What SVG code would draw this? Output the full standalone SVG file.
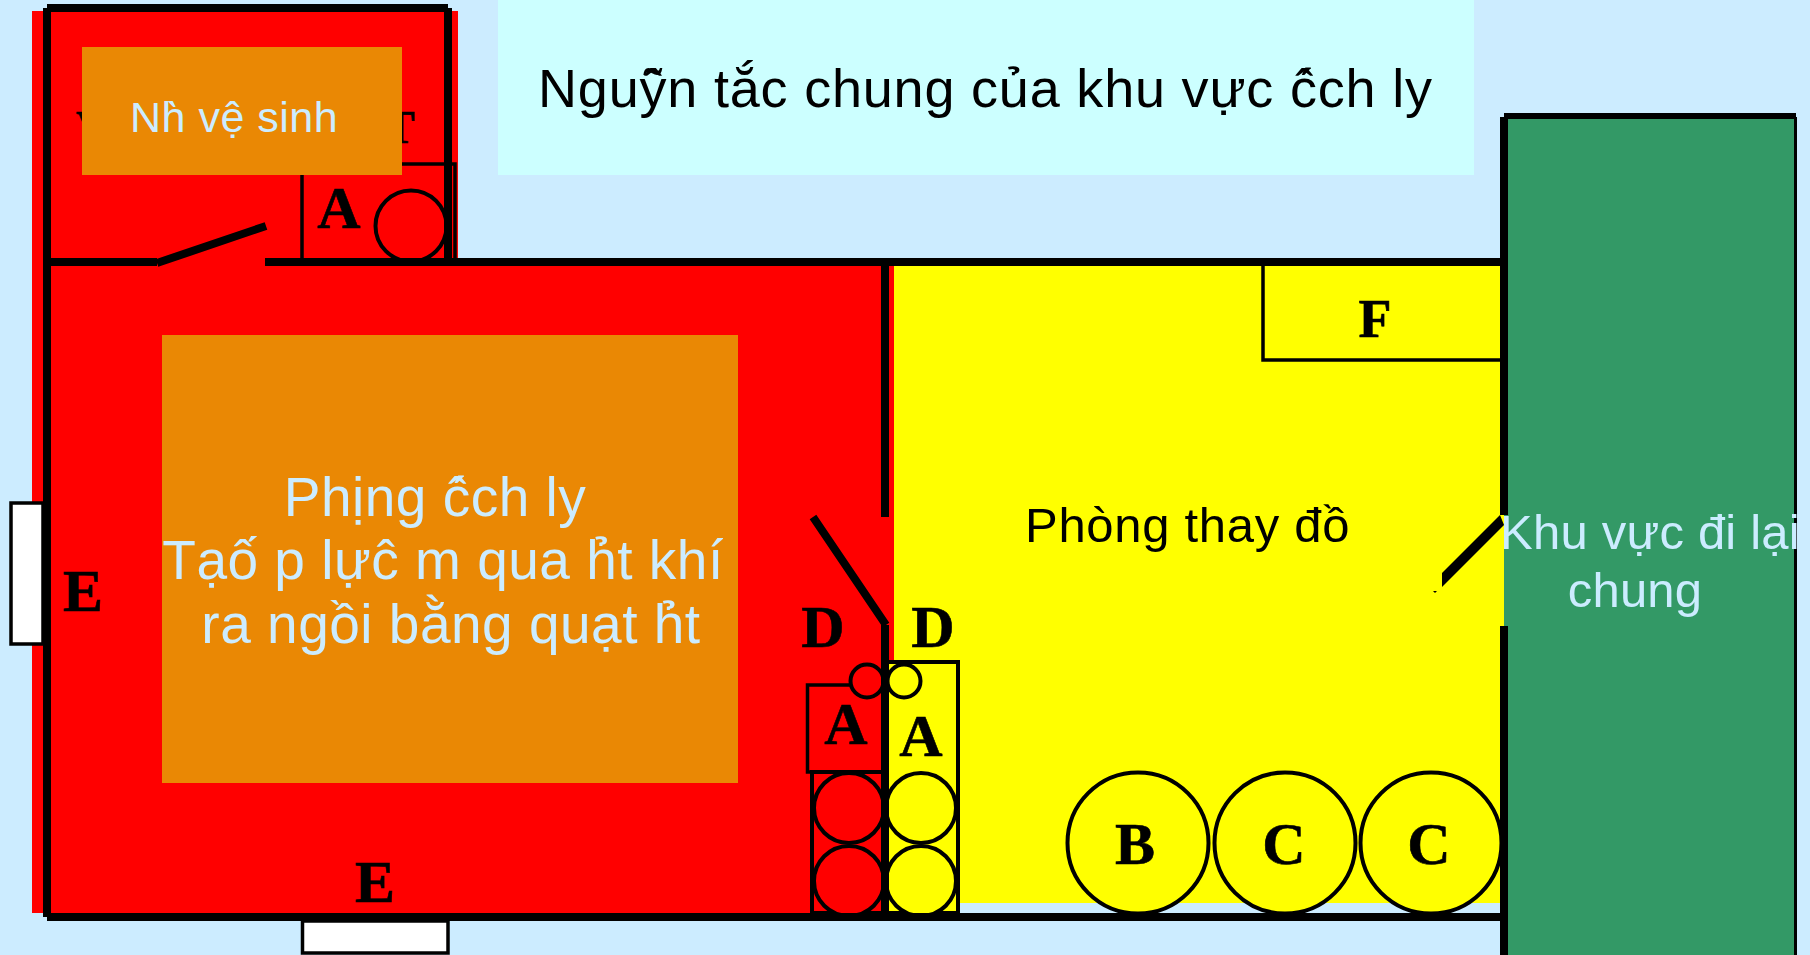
<svg xmlns="http://www.w3.org/2000/svg" width="1810" height="955" viewBox="0 0 1810 955">
<style>
.w{stroke:#000;stroke-width:8;fill:none}
.t{stroke:#000;stroke-width:3.5;fill:none}
.c{stroke:#000;stroke-width:4;fill:none}
.r{stroke:#000;stroke-width:4;fill:#f00}
.y{stroke:#000;stroke-width:4;fill:#ff0}
.o{fill:#ea8804}
.s{font-family:"Liberation Sans",Arial,sans-serif}
.l{fill:#ccecff}
.b{font-family:"Liberation Serif","Times New Roman",serif;font-weight:bold;font-size:60px;fill:#000;stroke:#000;stroke-width:.6px;text-anchor:middle}
</style>
<rect width="1810" height="955" fill="#ccecff"/>
<rect id="title-box" x="498" y="0" width="976" height="175" fill="#ccffff"/>
<g id="zones">
<rect x="32" y="11" width="426" height="255" fill="#f00"/>
<rect x="32" y="262" width="862" height="651" fill="#f00"/>
<rect x="894" y="266" width="610" height="637" fill="#ff0"/>
<rect x="1504" y="117" width="290" height="838" fill="#339966"/>
<rect x="1794" y="117" width="3" height="838" fill="#000"/>
</g>
<g id="toilet">
<text class="b" x="76" y="143" style="font-size:46px;text-anchor:start">V</text>
<text class="b" x="384" y="143" style="font-size:46px;text-anchor:start">T</text>
<path class="t" d="M302 262V164H455V262"/>
<circle class="c" cx="411" cy="226" r="35.5"/>
<rect class="o" x="82" y="47" width="320" height="128"/>
<text class="b" x="339" y="228">A</text>
<text class="s l" x="130" y="132" font-size="43" letter-spacing="0.500">Nh&#768; vệ sinh</text>
</g>
<g id="left-stack">
<rect class="r" x="812" y="772" width="73" height="141"/>
<circle class="r" cx="849" cy="808" r="35"/>
<circle class="r" cx="849" cy="881" r="35"/>
<path class="t" d="M885 685H807.500V772H885"/>
<circle class="r" cx="867" cy="681" r="16.500"/>
<text class="b" x="846" y="744">A</text>
<text class="b" x="823" y="647">D</text>
</g>
<g id="right-stack">
<rect class="y" x="887" y="662" width="71" height="251"/>
<circle class="y" cx="921" cy="808" r="35"/>
<circle class="y" cx="921" cy="881" r="35"/>
<circle class="y" cx="904" cy="681" r="16.500"/>
<text class="b" x="921" y="756">A</text>
<text class="b" x="933" y="647">D</text>
</g>
<g id="walls">
<path class="w" d="M47 8V917M47 8H448M448 8V262M47 262H157M157 263L266 226M265 262H1504M885 262V517M813 517L886 625M885 625V917M47 917H1504M1504 117V515M1504 626V955"/>
<path d="M1504 116H1796" stroke="#000" stroke-width="6" fill="none"/>
<polygon points="1500,515 1504,525 1442,587 1442,573" fill="#000"/>
<polygon points="1433,591 1437,591 1435,593" fill="#000"/>
</g>
<g id="isolation-room">
<rect class="o" x="162" y="335" width="576" height="448"/>
<text class="s l" font-size="55" letter-spacing="0.500" text-anchor="middle"><tspan x="435" y="516">Phịng c&#770;&#769;ch ly</tspan><tspan x="443" y="579">Tạo&#770;&#769; p lực&#770; m qua h&#777;t khí</tspan><tspan x="451" y="643">ra ngồi bằng quạt h&#777;t</tspan></text>
</g>
<g id="windows">
<rect x="11" y="503" width="32" height="141" fill="#fff" stroke="#000" stroke-width="3.500"/>
<rect x="302.500" y="921" width="145.500" height="32" fill="#fff" stroke="#000" stroke-width="3.500"/>
<text class="b" x="83" y="611">E</text>
<text class="b" x="375" y="902">E</text>
</g>
<g id="changing-room">
<path class="t" d="M1263 266V360H1500"/>
<text class="b" x="1375" y="337" style="font-size:54px">F</text>
<circle class="y" cx="1138" cy="843" r="70.500"/>
<circle class="y" cx="1285" cy="843" r="70.500"/>
<circle class="y" cx="1431" cy="843" r="70.500"/>
<text class="b" x="1135" y="864">B</text>
<text class="b" x="1284" y="864">C</text>
<text class="b" x="1429" y="864">C</text>
<text class="s" x="1025" y="542" font-size="49" letter-spacing="0.700" fill="#000">Phòng thay đồ</text>
</g>
<g id="corridor">
<text class="s l" font-size="49" letter-spacing="0.200" text-anchor="middle"><tspan x="1650" y="549">Khu vực đi lại</tspan><tspan x="1635" y="607">chung</tspan></text>
</g>
<text id="title" class="s" x="538" y="107" font-size="54" letter-spacing="0.800" fill="#000">Nguy&#770;&#771;n tắc chung của khu vực c&#770;&#769;ch ly</text>
</svg>
